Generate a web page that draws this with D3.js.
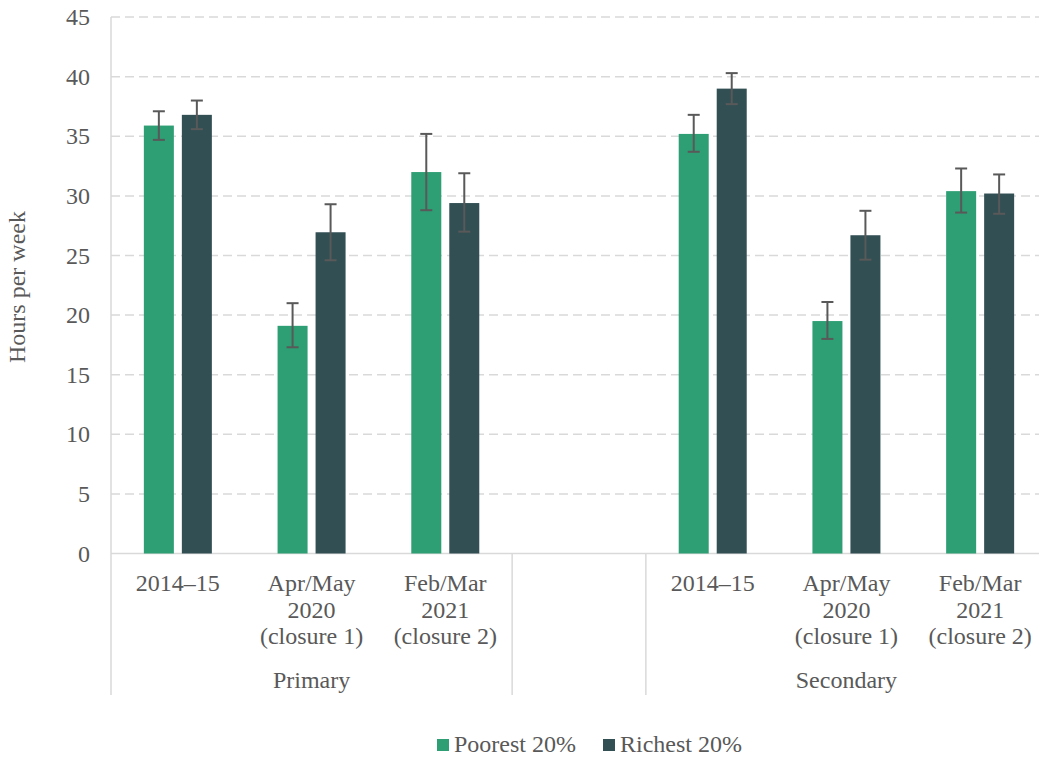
<!DOCTYPE html>
<html><head><meta charset="utf-8">
<script src="https://cdn.jsdelivr.net/npm/d3@7"></script>
<style>
body{margin:0;background:#fff;}
svg{display:block;font-family:"Liberation Serif","Times New Roman",serif;}
</style></head>
<body>
<svg id="chart" width="1039" height="758"></svg>
<script>
// ---- data ----
const slots = ["P1","P2","P3","gap","S1","S2","S3"];
const slotLabels = [["2014–15"],["Apr/May","2020","(closure 1)"],["Feb/Mar","2021","(closure 2)"],[],["2014–15"],["Apr/May","2020","(closure 1)"],["Feb/Mar","2021","(closure 2)"]];
const groups = [{name:"Primary",from:0,to:3},{name:"",from:3,to:4},{name:"Secondary",from:4,to:7}];
const seriesNames = ["Poorest 20%","Richest 20%"];
const poorest     = [35.9, 19.1, 32.0, null, 35.2, 19.5, 30.4];
const poorestLow  = [34.7, 17.3, 28.8, null, 33.7, 18.0, 28.6];
const poorestHigh = [37.1, 21.0, 35.2, null, 36.8, 21.1, 32.3];
const richest     = [36.8, 26.95, 29.4, null, 39.0, 26.7, 30.2];
const richestLow  = [35.6, 24.6, 27.0, null, 37.7, 24.65, 28.5];
const richestHigh = [38.0, 29.3, 31.9, null, 40.3, 28.75, 31.8];
const yTicks = [0,5,10,15,20,25,30,35,40,45];
const colors = ["#2e9e74","#324f54"];

(function(){
const svg = d3.select("#chart");
const pL = 111, pR = 1047, pT = 17.1, pB = 553.5;
const y = d3.scaleLinear().domain([0,45]).range([pB, pT]);
const x = d3.scaleBand().domain(slots).range([pL, pR]).paddingInner(0).paddingOuter(0);
const barW = 30, gap = 8;
const textCol = "#595959", lineCol = "#d9d9d9";
const fs = 24;

// gridlines
svg.append("g").selectAll("line").data(yTicks.filter(t=>t>0)).join("line")
  .attr("x1", pL).attr("x2", pR)
  .attr("y1", d=>y(d)).attr("y2", d=>y(d))
  .attr("stroke", lineCol).attr("stroke-width", 1.5).attr("stroke-dasharray","9,5");

// y axis labels
const yAxis = d3.axisLeft(y).tickValues(yTicks).tickSize(0).tickPadding(0);
const ya = svg.append("g").attr("transform", `translate(90,0)`).call(yAxis);
ya.select(".domain").remove();
ya.selectAll("text").attr("font-size", fs).attr("fill", textCol)
  .attr("font-family", "Liberation Serif");

// axis lines
svg.append("line").attr("x1", pL).attr("x2", pL).attr("y1", pT).attr("y2", 695)
  .attr("stroke", lineCol).attr("stroke-width", 1.5);
svg.append("line").attr("x1", pL).attr("x2", pR).attr("y1", pB).attr("y2", pB)
  .attr("stroke", lineCol).attr("stroke-width", 1.5);
groups.slice(0, -1).forEach(g=>{
  const bx = x(slots[g.to]);
  svg.append("line").attr("x1", bx).attr("x2", bx).attr("y1", pB).attr("y2", 695)
    .attr("stroke", lineCol).attr("stroke-width", 1.5);
});

// bars
const series = [
  {vals: poorest, lo: poorestLow, hi: poorestHigh, off: -gap/2 - barW},
  {vals: richest, lo: richestLow, hi: richestHigh, off: gap/2}
];
series.forEach((s, si)=>{
  const data = slots.map((k,i)=>({k, v:s.vals[i], lo:s.lo[i], hi:s.hi[i]})).filter(d=>d.v!=null);
  const g = svg.append("g");
  g.selectAll("rect").data(data).join("rect")
    .attr("x", d=>x(d.k) + x.bandwidth()/2 + s.off)
    .attr("width", barW)
    .attr("y", d=>y(d.v)).attr("height", d=>y(0)-y(d.v))
    .attr("fill", colors[si]);
  const cx = d=>x(d.k) + x.bandwidth()/2 + s.off + barW/2;
  const eg = svg.append("g").attr("stroke", "#595959").attr("stroke-width", 2);
  eg.selectAll(".v").data(data).join("line").attr("class","v")
    .attr("x1", cx).attr("x2", cx).attr("y1", d=>y(d.hi)).attr("y2", d=>y(d.lo));
  eg.selectAll(".t").data(data).join("line").attr("class","t")
    .attr("x1", d=>cx(d)-6).attr("x2", d=>cx(d)+6).attr("y1", d=>y(d.hi)).attr("y2", d=>y(d.hi));
  eg.selectAll(".b").data(data).join("line").attr("class","b")
    .attr("x1", d=>cx(d)-6).attr("x2", d=>cx(d)+6).attr("y1", d=>y(d.lo)).attr("y2", d=>y(d.lo));
});

// category labels
slots.forEach((k,i)=>{
  const t = svg.append("text").attr("text-anchor","middle").attr("font-size",fs).attr("fill",textCol)
    .attr("x", x(k)+x.bandwidth()/2).attr("y", 591);
  slotLabels[i].forEach((ln,j)=>{
    t.append("tspan").attr("x", x(k)+x.bandwidth()/2).attr("dy", j===0?0:26.5).text(ln);
  });
});
// group labels
groups.forEach(g=>{
  if(!g.name) return;
  const cx = (x(slots[g.from]) + (g.to < slots.length ? x(slots[g.to]) : pR)) / 2;
  svg.append("text").attr("text-anchor","middle").attr("font-size",fs).attr("fill",textCol)
    .attr("x", cx).attr("y", 688).text(g.name);
});

// y axis title
svg.append("text").attr("transform","translate(25,287) rotate(-90)")
  .attr("text-anchor","middle").attr("font-size",fs).attr("fill",textCol).text("Hours per week");

// legend
const legX = [437, 603];
seriesNames.forEach((n,i)=>{
  svg.append("rect").attr("x", legX[i]).attr("y", 739).attr("width",12).attr("height",12).attr("fill",colors[i]);
  svg.append("text").attr("x", legX[i]+17).attr("y", 752).attr("font-size",fs).attr("fill",textCol).text(n);
});
})();
</script>
</body></html>
